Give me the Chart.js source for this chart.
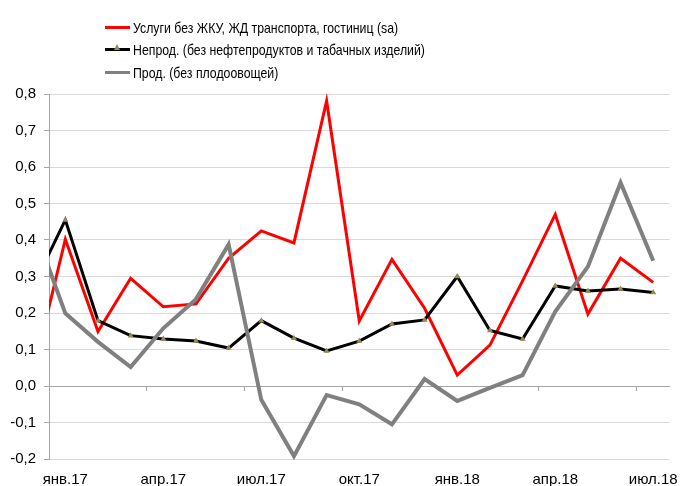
<!DOCTYPE html>
<html>
<head>
<meta charset="utf-8">
<script src="https://cdn.jsdelivr.net/npm/chart.js@4.4.0/dist/chart.umd.min.js"></script>
<style>
  html, body { margin: 0; padding: 0; background: #fff; }
  .wrap { position: relative; width: 682px; height: 486px; }
  .legend { position: absolute; left: 105px; top: 16px; font-family: "Liberation Sans", Arial, sans-serif; font-size: 15px; color: #000; }
  .legend .item { display: flex; align-items: center; height: 22.5px; white-space: nowrap; }
  .legend .swatch { position: relative; width: 25px; height: 3px; margin-right: 3px; flex: none; }
  .legend .name { display: inline-block; transform: scaleX(0.82); transform-origin: left center; }
  .legend .mark { position: absolute; left: 9px; top: -4px; width: 0; height: 0;
    border-left: 3.5px solid transparent; border-right: 3.5px solid transparent; border-bottom: 6px solid #948a54; }
</style>
</head>
<body>
<div class="wrap">
  <canvas id="chart" width="682" height="486"></canvas>
  <div class="legend" id="legend"></div>
</div>
<script>
const months = ["дек.16", "янв.17", "фев.17", "мар.17", "апр.17", "май.17", "июн.17", "июл.17", "авг.17", "сен.17",
    "окт.17", "ноя.17", "дек.17", "янв.18", "фев.18", "мар.18", "апр.18", "май.18", "июн.18", "июл.18"];

const seriesNames = [
    "Услуги без ЖКУ, ЖД транспорта, гостиниц (sa)",
    "Непрод. (без нефтепродуктов и табачных изделий)",
    "Прод. (без плодоовощей)"
];

const services = [0.03, 0.402, 0.149, 0.295, 0.217, 0.225, 0.350, 0.425, 0.392, 0.781,
    0.178, 0.347, 0.213, 0.030, 0.112, 0.288, 0.470, 0.197, 0.350, 0.284];
const nonFood = [0.27, 0.455, 0.179, 0.138, 0.129, 0.123, 0.104, 0.179, 0.131, 0.096,
    0.123, 0.170, 0.181, 0.300, 0.152, 0.129, 0.274, 0.260, 0.266, 0.256];
const food = [0.445, 0.199, 0.121, 0.052, 0.158, 0.238, 0.388, -0.038, -0.192, -0.025,
    -0.050, -0.105, 0.019, -0.041, -0.005, 0.030, 0.204, 0.327, 0.557, 0.343];

const colors = ["#ff0000", "#000000", "#808080"];
const widths = [3, 3, 4];

// quarter labels (янв, апр, июл, окт) and quarter boundaries for tick marks
const labelIdx = months.map((m, i) => i).filter(i => i % 3 === 1);
const tickIdx = labelIdx.map(i => i - 0.5);

const toPoints = arr => arr.map((v, i) => ({ x: i, y: v }));

// html legend
const legend = document.getElementById("legend");
seriesNames.forEach((name, i) => {
    const marker = i === 1 ? '<span class="mark"></span>' : '';
    legend.insertAdjacentHTML("beforeend",
        `<div class="item"><span class="swatch" style="background:${colors[i]}">${marker}</span><span class="name">${name}</span></div>`);
});

const font = { family: "'Liberation Sans', Arial, sans-serif", size: 15 };
const axisGray = "#a6a6a6";

new Chart(document.getElementById("chart"), {
    type: "line",
    data: {
        datasets: [
            { label: seriesNames[0], data: toPoints(services), borderColor: colors[0], borderWidth: widths[0], pointRadius: 0, order: 3 },
            { label: seriesNames[1], data: toPoints(nonFood), borderColor: colors[1], borderWidth: widths[1], order: 2,
              pointStyle: "triangle", pointRadius: 3.5, pointBackgroundColor: "#948a54", pointBorderColor: "#948a54", pointBorderWidth: 0 },
            { label: seriesNames[2], data: toPoints(food), borderColor: colors[2], borderWidth: widths[2], pointRadius: 0, order: 1 }
        ].map(ds => Object.assign(ds, { tension: 0, fill: false, clip: { left: 0, top: 10, right: 10, bottom: 10 } }))
    },
    options: {
        responsive: false,
        animation: false,
        layout: { padding: { top: 94, right: 12, left: 0, bottom: 0 } },
        plugins: { legend: { display: false }, tooltip: { enabled: false } },
        scales: {
            x: {
                type: "linear",
                min: 0.5,
                max: 19.5,
                afterBuildTicks: axis => { axis.ticks = labelIdx.map(v => ({ value: v })); },
                afterFit: axis => { axis.height = 27; },
                grid: { display: false },
                border: { display: false },
                ticks: { color: "#000", font: font, maxRotation: 0, autoSkip: false, padding: 4,
                    callback: v => months[v] }
            },
            x2: {
                type: "linear",
                axis: "x",
                position: { y: 0 },
                min: 0.5,
                max: 19.5,
                afterBuildTicks: axis => { axis.ticks = tickIdx.map(v => ({ value: v })); },
                grid: { drawOnChartArea: false, drawTicks: true, tickLength: 4, color: axisGray },
                border: { display: true, color: axisGray },
                ticks: { callback: () => "" }
            },
            y: {
                min: -0.2,
                max: 0.8,
                afterFit: axis => { axis.width = 49; },
                grid: {
                    color: ctx => (ctx.tick && Math.abs(ctx.tick.value) < 1e-9 ? axisGray : "#d9d9d9"),
                    tickColor: axisGray,
                    tickLength: 5
                },
                border: { display: true, color: axisGray },
                ticks: { stepSize: 0.1, color: "#000", font: font, padding: 8,
                    callback: v => v.toFixed(1).replace(".", ",") }
            }
        }
    }
});
</script>
</body>
</html>
